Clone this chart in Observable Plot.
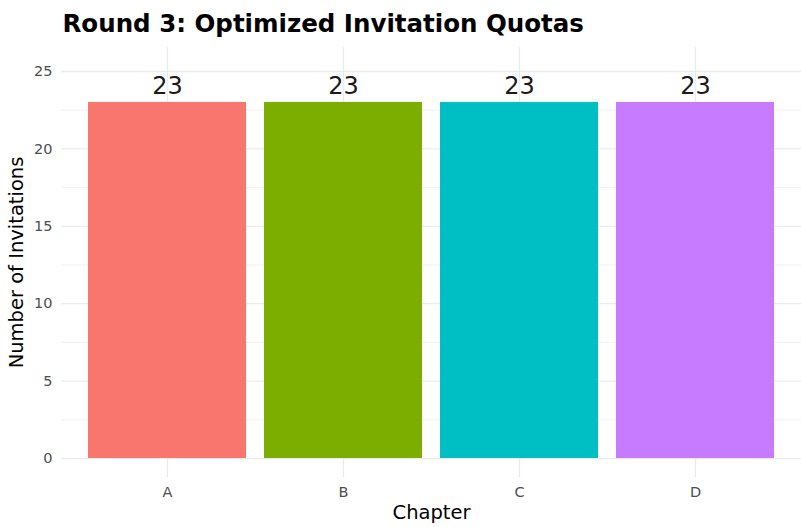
<!DOCTYPE html>
<html>
<head>
<meta charset="utf-8">
<script src="https://cdn.jsdelivr.net/npm/d3@7"></script>
<script src="https://cdn.jsdelivr.net/npm/@observablehq/plot@0.6"></script>
<style>
  html, body { margin: 0; padding: 0; background: #fff; }
  #chart svg { display: block; }
</style>
</head>
<body>
<div id="chart"></div>
<script>
const chartTitle = "Round 3: Optimized Invitation Quotas";
const xTitle = "Chapter";
const yTitle = "Number of Invitations";
const chapters = ["A", "B", "C", "D"];
const quotas = [23, 23, 23, 23];
const chapterColors = ["#F8766D", "#7CAE00", "#00BFC4", "#C77CFF"];
const yMajorTicks = [0, 5, 10, 15, 20, 25];
const yMinorTicks = [2.5, 7.5, 12.5, 17.5, 22.5];

const data = chapters.map((c, i) => ({chapter: c, quota: quotas[i]}));
const font = "DejaVu Sans, sans-serif";
const grid = "#ebebeb";

const plot = Plot.plot({
  width: 801,
  height: 527,
  marginTop: 47,
  marginBottom: 50,
  marginLeft: 61,
  marginRight: 0,
  style: {fontFamily: font, background: "#fff"},
  x: {type: "band", domain: chapters, paddingInner: 0.1, paddingOuter: 0.15, axis: null},
  y: {domain: [-1.227, 26.55], axis: null},
  color: {domain: chapters, range: chapterColors},
  marks: [
    Plot.ruleY(yMinorTicks, {stroke: grid, strokeWidth: 0.7}),
    Plot.ruleY(yMajorTicks, {stroke: grid, strokeWidth: 1.3}),
    Plot.ruleX(chapters, {x: d => d, stroke: grid, strokeWidth: 1.3}),
    Plot.barY(data, {x: "chapter", y: "quota", fill: "chapter"}),
    Plot.text(data, {x: "chapter", y: "quota", text: d => String(d.quota), dy: -8, lineAnchor: "bottom",
      fontSize: 24, fill: "#1a1a1a"}),
    Plot.axisY({ticks: yMajorTicks, tickSize: 0, tickPadding: 9, fontSize: 14.5, color: "#4d4d4d", label: null}),
    Plot.axisX({tickSize: 0, tickPadding: 9.7, fontSize: 14.5, color: "#4d4d4d", label: null}),
    Plot.text([xTitle], {frameAnchor: "bottom", dy: 41, textAnchor: "middle", lineAnchor: "bottom", fontSize: 19.5, fill: "#000"}),
    Plot.text([yTitle], {frameAnchor: "left", dx: -39, rotate: -90, textAnchor: "middle", lineAnchor: "bottom", fontSize: 19.5, fill: "#000"}),
    Plot.text([chartTitle], {frameAnchor: "top-left", dx: 1, dy: -16, textAnchor: "start", lineAnchor: "bottom",
      fontSize: 24.5, fontWeight: "bold", fill: "#000"})
  ]
});
document.getElementById("chart").appendChild(plot);
</script>
</body>
</html>
